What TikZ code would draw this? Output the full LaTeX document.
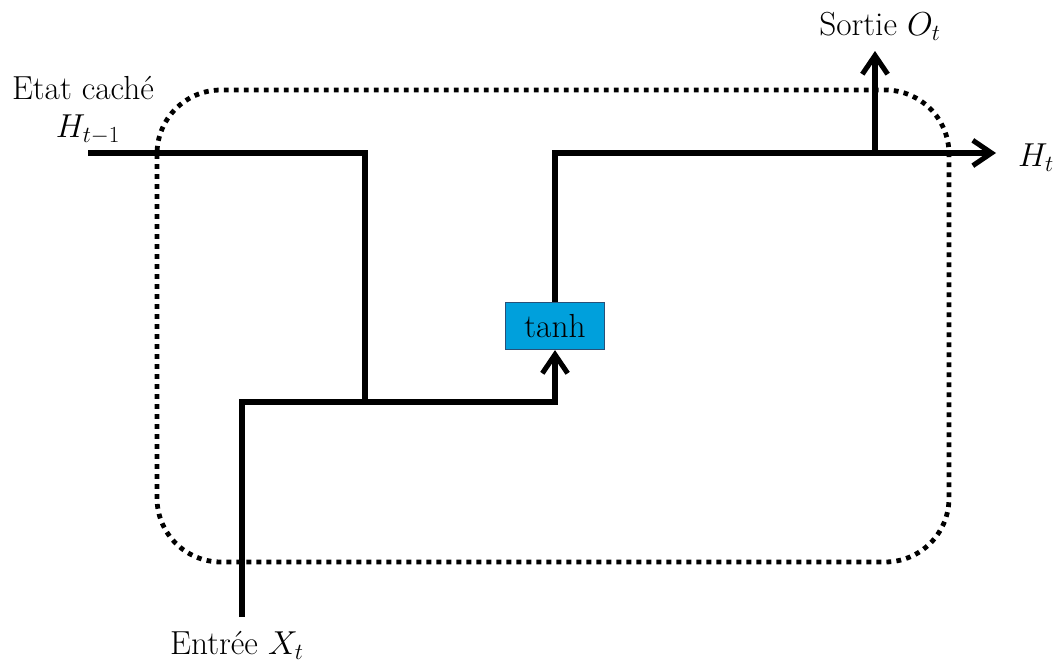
\documentclass[tikz,border=0pt]{standalone}
\usetikzlibrary{arrows.meta}
\definecolor{tanhfill}{RGB}{0,160,220}
\definecolor{tanhdraw}{RGB}{40,80,120}
\begin{document}
\begin{tikzpicture}[x=0.75pt,y=-0.75pt,
  wire/.style={line width=3.8pt},
  tip/.style={-{Straight Barb[length=14pt,width=19pt]}},
  cellbox/.style={line width=3.6pt,dash pattern=on 3.6pt off 3.9pt,rounded corners=48pt},
  lbl/.style={font=\fontsize{25}{30}\selectfont,inner sep=0pt},
  gate/.style={draw=tanhdraw,line width=1.2pt,fill=tanhfill,minimum width=74pt,minimum height=35pt,inner sep=0pt,font=\fontsize{25}{30}\selectfont}]
\useasboundingbox (0,0) rectangle (1058,664);
% cell outline
\draw[cellbox] (157,90) rectangle (949,562);
% nodes
\node[gate] (tanh) at (555,326) {tanh};
\node[lbl] (etat) at (83,88) {Etat caché};
\node[lbl] (hprev) at (88,130) {$H_{t-1}$};
\node[lbl] (sortie) at (880,26) {Sortie $O_t$};
\node[lbl] (ht) at (1036,158) {$H_t$};
\node[lbl] (entree) at (237,645) {Entrée $X_t$};
% coordinates
\coordinate (hin) at (88,153);
\coordinate (j1) at (365,402);
\coordinate (xin) at (242,617);
\coordinate (hout) at (996,153);
\coordinate (b) at (875,153);
\coordinate (ot) at (875,51);
% connectors
\draw[wire] (hin) -| (j1);
\draw[wire,tip] (xin) |- (j1) -| (tanh.south);
\draw[wire,tip] (tanh.north) |- (hout);
\draw[wire,tip] (b) -- (ot);
\end{tikzpicture}
\end{document}
